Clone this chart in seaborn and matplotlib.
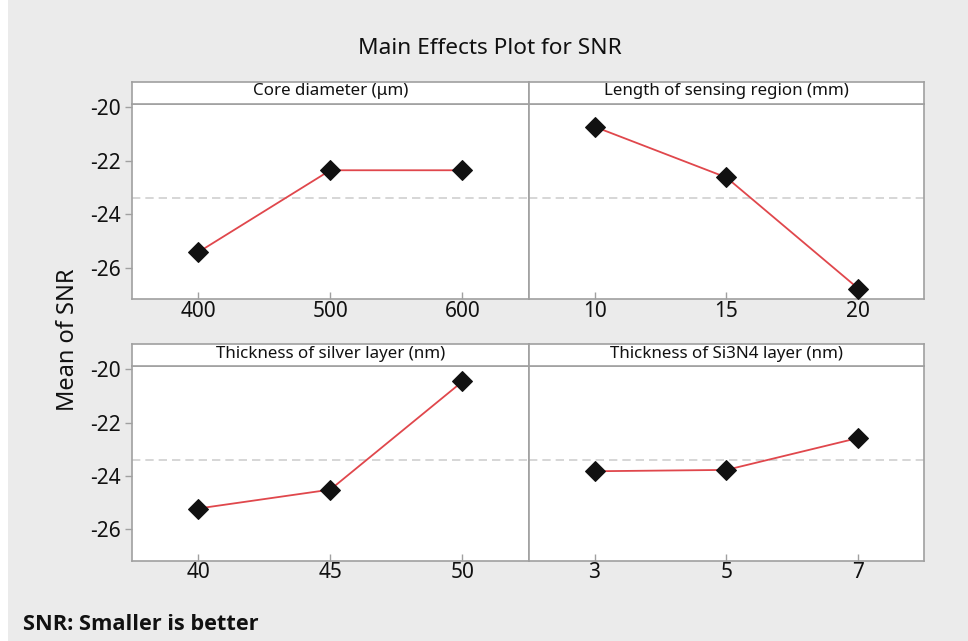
import numpy as np
import pandas as pd
import matplotlib
matplotlib.use("Agg")
import matplotlib.pyplot as plt
import seaborn as sns
from matplotlib.patches import Rectangle

# ---- data ----
core_levels = ["400", "500", "600"]
core_snr = [-25.43, -22.36, -22.36]
length_levels = ["10", "15", "20"]
length_snr = [-20.73, -22.63, -26.79]
silver_levels = ["40", "45", "50"]
silver_snr = [-25.22, -24.51, -20.45]
si3n4_levels = ["3", "5", "7"]
si3n4_snr = [-23.82, -23.77, -22.57]

panel_titles = ["Core diameter (μm)", "Length of sensing region (mm)",
                "Thickness of silver layer (nm)", "Thickness of Si3N4 layer (nm)"]
y_ticks = [-20, -22, -24, -26]

panels = [(core_levels, core_snr), (length_levels, length_snr),
          (silver_levels, silver_snr), (si3n4_levels, si3n4_snr)]
grand_mean = float(np.mean(core_snr))

sns.set_theme(style="white")
plt.rcParams['font.family'] = ['Noto Sans', 'DejaVu Sans']
plt.rcParams['axes.unicode_minus'] = False

BG = "#ebebeb"
EDGE = "#a0a0a0"
RED = "#e0474c"

W, H = 968, 641
fig = plt.figure(figsize=(W / 100, H / 100), dpi=100, facecolor=BG)

# white strip on the left edge
fig.patches.append(Rectangle((0, 0), 8 / W, 1, transform=fig.transFigure,
                             facecolor="white", edgecolor="none", zorder=0))

xl = [132, 528.6]
xr = [528.6, 924.3]
rows = [(81.7, 104.0, 299.3), (344.3, 366.3, 561.0)]  # header top, plot top, plot bottom

def fx(px):
    return px / W

def fy(py):
    return 1 - py / H

for i, (levels, vals) in enumerate(panels):
    r, c = divmod(i, 2)
    x0, x1 = (xl, xr)[c]
    htop, ptop, pbot = rows[r]
    ax = fig.add_axes([fx(x0), fy(pbot), fx(x1 - x0), (pbot - ptop) / H])
    ax.set_facecolor("white")
    df = pd.DataFrame({"pos": np.arange(len(levels)), "snr": vals})
    ax.axhline(grand_mean, color="#cfcfcf", lw=1.2, ls=(0, (5, 3)), zorder=1)
    sns.lineplot(data=df, x="pos", y="snr", ax=ax, color=RED, lw=1.3,
                 marker="D", markersize=10, markerfacecolor="#111111",
                 markeredgecolor="#111111", zorder=3)
    ax.set_xlim(-0.5, len(levels) - 0.5)
    ax.set_ylim(-27.19, -19.88)
    ax.set_xticks(np.arange(len(levels)))
    ax.set_xticklabels(levels)
    ax.set_yticks(y_ticks)
    ax.set_xlabel("")
    ax.set_ylabel("")
    ax.tick_params(axis="x", direction="in", length=5, width=1, color=EDGE,
                   labelsize=15, labelcolor="#111111", pad=1, bottom=True)
    ax.tick_params(axis="y", direction="out", length=5, width=1, color=EDGE,
                   labelsize=15, labelcolor="#111111", pad=3, left=(c == 0))
    if c == 1:
        ax.set_yticklabels([])
    for s in ax.spines.values():
        s.set_color(EDGE)
        s.set_linewidth(1.2)
    # header strip
    hax = fig.add_axes([fx(x0), fy(ptop), fx(x1 - x0), (ptop - htop) / H])
    hax.set_facecolor("white")
    hax.set_xticks([])
    hax.set_yticks([])
    for s in hax.spines.values():
        s.set_color(EDGE)
        s.set_linewidth(1.2)
    hax.text(0.5, 0.58, panel_titles[i], ha="center", va="center",
             fontsize=12.2, color="#111111", transform=hax.transAxes)

fig.text(fx(490), fy(48), "Main Effects Plot for SNR", ha="center", va="center",
         fontsize=16.3, color="#111111")
fig.text(fx(68), fy(340), "Mean of SNR", ha="center", va="center",
         rotation=90, fontsize=17, color="#111111")
fig.text(fx(23), fy(625), "SNR: Smaller is better", ha="left", va="center",
         fontsize=15.7, fontweight="bold", color="#111111",
         family=["Open Sans", "DejaVu Sans"])

fig.savefig("out.png", dpi=100, facecolor=BG)
